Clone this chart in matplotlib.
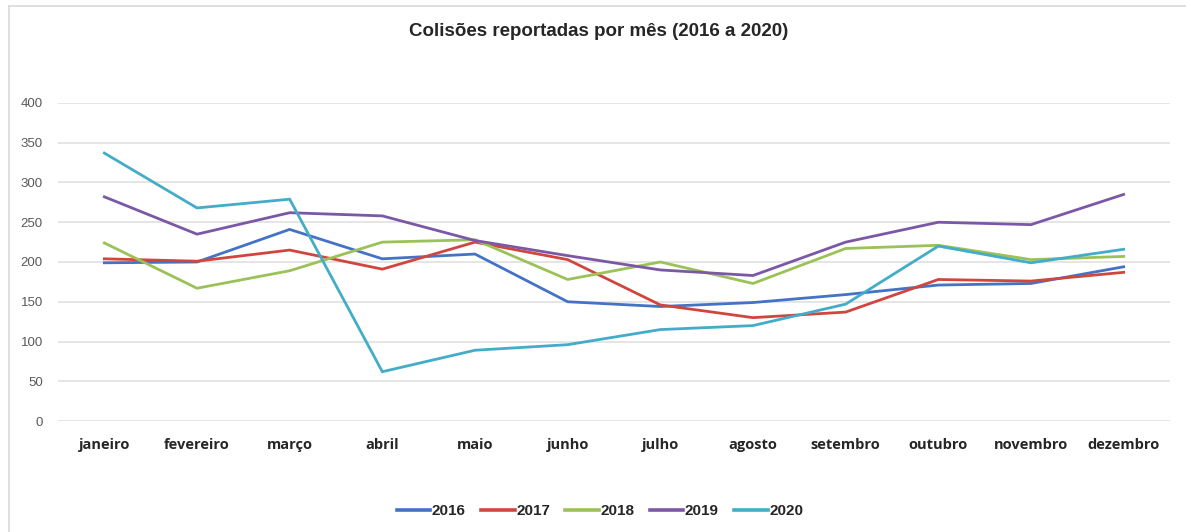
import matplotlib
matplotlib.use("Agg")
import matplotlib.pyplot as plt
from matplotlib.lines import Line2D

meses = ["janeiro", "fevereiro", "março", "abril", "maio", "junho",
         "julho", "agosto", "setembro", "outubro", "novembro", "dezembro"]

anos = ["2016", "2017", "2018", "2019", "2020"]

v2016 = [199, 200, 241, 204, 210, 150, 144, 149, 159, 171, 173, 194]
v2017 = [204, 201, 215, 191, 225, 203, 146, 130, 137, 178, 176, 187]
v2018 = [224, 167, 189, 225, 228, 178, 200, 173, 217, 221, 203, 207]
v2019 = [282, 235, 262, 258, 227, 208, 190, 183, 225, 250, 247, 285]
v2020 = [337, 268, 279, 62, 89, 96, 115, 120, 147, 220, 199, 216]

cores = ["#4472C4", "#D0463F", "#9BC256", "#7B58A6", "#43ACC8"]
series = [v2016, v2017, v2018, v2019, v2020]

W, H = 1186, 532
fig = plt.figure(figsize=(W / 100, H / 100), dpi=100)
fig.patch.set_facecolor("white")

# light chart frame (top and left edges)
fig.add_artist(Line2D([9 / W, 9 / W], [0, 1 - 6 / H], transform=fig.transFigure,
                      color="#d9d9d9", lw=1.2))
fig.add_artist(Line2D([9 / W, 1], [1 - 6 / H, 1 - 6 / H], transform=fig.transFigure,
                      color="#d9d9d9", lw=1.2))

ax = fig.add_axes([58 / W, 1 - 421 / H, (1170 - 58) / W, (421 - 103) / H])
x = list(range(len(meses)))
for ano, vals, cor in zip(anos, series, cores):
    ax.plot(x, vals, color=cor, lw=2.0, label=ano, solid_joinstyle="miter")

ax.set_xlim(-0.5, len(meses) - 0.5)
ax.set_ylim(0, 400)
ax.set_yticks(range(0, 401, 50))
ax.yaxis.grid(True, color="#e3e3e3", lw=1.3)
ax.set_axisbelow(True)
for s in ax.spines.values():
    s.set_visible(False)
ax.tick_params(axis="both", length=0)
ax.tick_params(axis="y", pad=11, labelsize=9.5, labelcolor="#595959")
ax.tick_params(axis="x", pad=12, labelsize=10.5, labelcolor="#262626")
ax.set_xticks(x)
ax.set_xticklabels(meses, fontweight="bold", family="Open Sans")
for t in ax.get_yticklabels():
    t.set_family("Liberation Sans")

fig.text(599 / W, 1 - 32 / H, "Colisões reportadas por mês (2016 a 2020)",
         ha="center", va="center", fontsize=13.5, fontweight="bold",
         family="Liberation Sans", color="#262626")

leg = fig.legend(loc="center", bbox_to_anchor=(600 / W, 1 - 511 / H), ncol=5,
                 frameon=False, handlelength=2.2, handletextpad=0.1,
                 columnspacing=1.0, prop={"family": "Liberation Sans",
                                          "weight": "bold", "size": 11})
for line in leg.get_lines():
    line.set_linewidth(2.6)
for t in leg.get_texts():
    t.set_color("#262626")

fig.savefig("out.png", dpi=100, facecolor="white")
